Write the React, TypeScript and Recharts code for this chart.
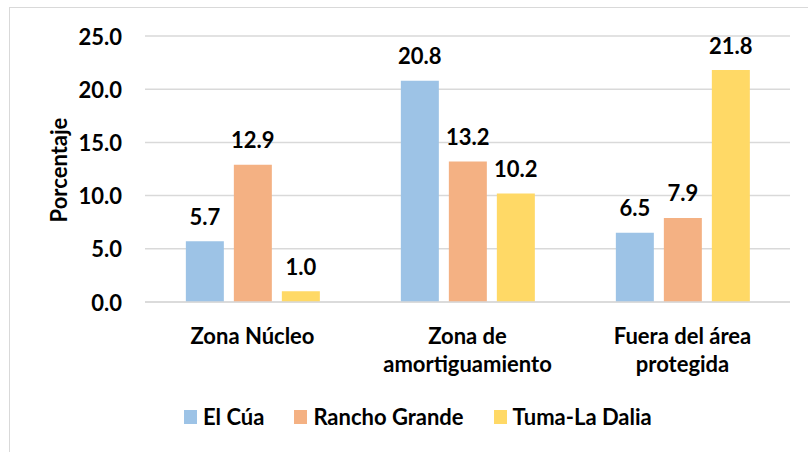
import React from 'react';
import { BarChart, Bar, XAxis, YAxis, CartesianGrid, Legend, LabelList } from 'recharts';

const categories = ['Zona Núcleo', 'Zona de amortiguamiento', 'Fuera del área protegida'];
const categoryLines = [['Zona Núcleo'], ['Zona de', 'amortiguamiento'], ['Fuera del área', 'protegida']];
const elCua = [5.7, 20.8, 6.5];
const ranchoGrande = [12.9, 13.2, 7.9];
const tumaLaDalia = [1.0, 10.2, 21.8];
const yTicks = [0, 5, 10, 15, 20, 25];
const seriesKeys = ['elCua', 'ranchoGrande', 'tumaLaDalia'];
const seriesNames = ['El Cúa', 'Rancho Grande', 'Tuma-La Dalia'];
const seriesColors = ['#9DC3E6', '#F4B183', '#FFD966'];

const data = categories.map((c, i) => ({
  name: c,
  elCua: elCua[i],
  ranchoGrande: ranchoGrande[i],
  tumaLaDalia: tumaLaDalia[i],
}));

const FONT = 'Lato, "Liberation Sans", sans-serif';
const FS = 22;

const XTick = (props: any) => {
  const { x, y, payload } = props;
  const idx = categories.indexOf(payload.value);
  const lines = categoryLines[idx] || [payload.value];
  return (
    <g>
      {lines.map((l, j) => (
        <text key={j} x={x} y={y + 25 + j * 28} textAnchor="middle" dominantBaseline="central"
          fontFamily={FONT} fontWeight={700} fontSize={FS} fill="#000">{l}</text>
      ))}
    </g>
  );
};

const YTick = (props: any) => {
  const { x, y, payload } = props;
  return (
    <text x={x - 15} y={y} textAnchor="end" dominantBaseline="central"
      fontFamily={FONT} fontWeight={700} fontSize={FS} fill="#000">{Number(payload.value).toFixed(1)}</text>
  );
};

const ValueLabel = (props: any) => {
  const { x, y, width, value } = props;
  return (
    <text x={x + width / 2} y={y - 25} textAnchor="middle" dominantBaseline="central"
      fontFamily={FONT} fontWeight={700} fontSize={FS} fill="#000">{Number(value).toFixed(1)}</text>
  );
};

const LegendContent = () => (
  <div style={{ display: 'flex', alignItems: 'center', fontFamily: FONT, fontWeight: 700, fontSize: FS, color: '#000' }}>
    {seriesNames.map((n, i) => (
      <div key={n} style={{ display: 'flex', alignItems: 'center', marginRight: 30 }}>
        <div style={{ width: 13, height: 14, background: seriesColors[i], marginRight: 6 }} />
        <span style={{ lineHeight: '24px' }}>{n}</span>
      </div>
    ))}
  </div>
);

export default function App() {
  return (
    <div style={{ position: 'absolute', left: 0, top: 0, width: 808, height: 452, overflow: 'hidden', background: '#fff' }}>
      <div style={{ position: 'absolute', left: 9, top: 7, width: 900, height: 600, border: '1px solid #D9D9D9', boxSizing: 'border-box' }} />
      <div style={{ position: 'absolute', left: 0, top: 0 }}>
        <BarChart width={808} height={452} data={data}
          margin={{ top: 36, right: 18, left: 0, bottom: 120 }}
          barCategoryGap="19%" barGap={10}>
          <CartesianGrid vertical={false} stroke="#D9D9D9" strokeWidth={1.5} />
          <XAxis dataKey="name" height={30} tick={<XTick />} tickLine={false} axisLine={{ stroke: '#D9D9D9', strokeWidth: 1.5 }} interval={0} />
          <YAxis width={145} domain={[0, 25]} ticks={yTicks} tick={<YTick />} tickLine={false} axisLine={false}
            label={{
              content: (p: any) => (
                <text x={58} y={170} textAnchor="middle" dominantBaseline="central" transform="rotate(-90 58 170)"
                  fontFamily={FONT} fontWeight={700} fontSize={FS} fill="#000">Porcentaje</text>
              ),
            }} />
          <Legend verticalAlign="middle" content={<LegendContent />} wrapperStyle={{ left: 184, top: 405 }} />
          {seriesKeys.map((k, i) => (
            <Bar key={k} dataKey={k} name={seriesNames[i]} fill={seriesColors[i]} isAnimationActive={false}>
              <LabelList dataKey={k} content={<ValueLabel />} />
            </Bar>
          ))}
        </BarChart>
      </div>
    </div>
  );
}
